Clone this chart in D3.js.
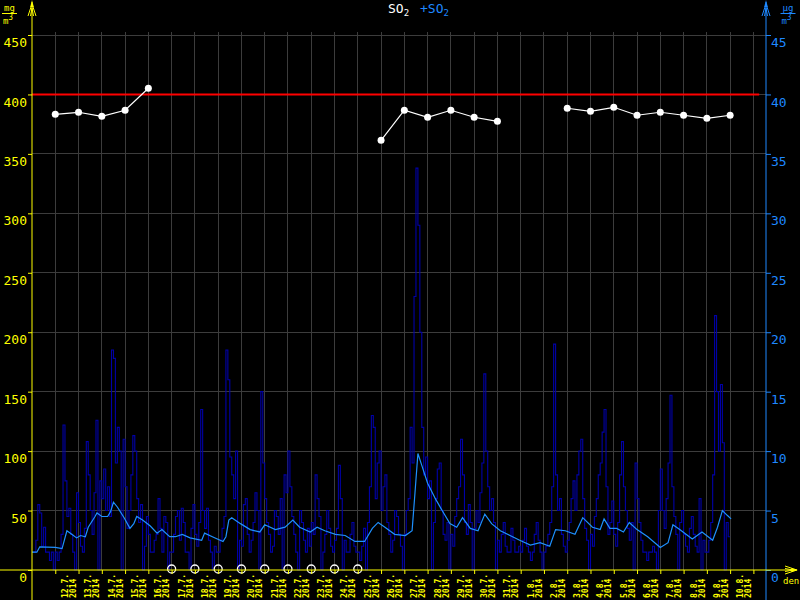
<!DOCTYPE html>
<html><head><meta charset="utf-8">
<script src="https://cdn.jsdelivr.net/npm/d3@7"></script>
<style>body{margin:0;background:#000}svg{display:block}</style>
</head><body><svg id="c" width="800" height="600"></svg>
<script>
// ---- data ----
const dayLabels = ["12.7.","13.7.","14.7.","15.7.","16.7.","17.7.","18.7.","19.7.","20.7.","21.7.","22.7.","23.7.","24.7.","25.7.","26.7.","27.7.","28.7.","29.7.","30.7.","31.7.","1.8.","2.8.","3.8.","4.8.","5.8.","6.8.","7.8.","8.8.","9.8.","10.8."];
const yearLabel = "2014";
const leftTicks = [0,50,100,150,200,250,300,350,400,450];
const rightTicks = [0,5,10,15,20,25,30,35,40,45];
const limitValue = 400;
// daily values at each day boundary (mg/m3)
const dailyValues = [383.3,385,381.6,386.7,405.2,null,null,null,null,null,null,null,null,null,361.4,386.7,380.8,386.7,380.8,377.4,null,null,388.4,385.8,389.2,382.5,385,382.5,379.9,382.5];
const missingDays = [5,6,7,8,9,10,11,12,13];
// 2-hourly values (ug/m3), one row per day starting 11.7.
const hourlyByDay = [
[1.5,1.5,2.5,5.5,4.8,2.0,3.6,1.5,1.5,0.8,1.5,0],
[1.5,0.8,1.5,3.0,12.2,7.5,4.5,5.2,3.0,1.5,0,6.5],
[4.0,2.0,1.5,3.5,10.8,8.0,5.0,3.0,6.5,12.6,0,7.5],
[6.0,8.5,5.0,7.0,4.5,18.5,17.8,9.0,12.0,10.0,0,11.0],
[7.0,3.5,5.0,8.0,11.3,10.0,6.0,4.0,5.5,0,2.0,4.5],
[3.0,1.5,1.5,2.5,3.0,6.0,3.5,1.5,4.5,4.0,0,1.5],
[1.5,3.0,4.5,5.0,2.5,5.2,4.0,1.5,1.5,0,3.5,5.5],
[3.0,2.0,4.0,13.5,5.0,3.5,5.2,2.5,1.5,0,2.0,1.5],
[1.5,2.5,3.5,4.5,18.5,16.0,9.5,8.0,6.0,10.0,0,2.5],
[2.0,5.5,6.0,3.0,1.5,2.5,4.0,6.5,5.0,0,15.0,9.0],
[6.0,4.0,3.0,1.5,2.0,5.0,4.5,3.0,6.0,0,8.0,6.5],
[10.0,7.0,4.5,3.0,1.5,0,5.0,4.0,2.5,1.5,3.5,2.0],
[4.0,3.0,8.0,6.0,4.5,0,1.5,3.0,5.0,3.5,2.0,1.5],
[2.5,3.5,8.8,6.0,0,2.5,1.5,1.5,3.0,4.0,2.0,1.5],
[1.5,0.8,2.0,3.5,0,4.0,7.0,13.0,12.0,6.0,9.0,10.0],
[5.0,7.0,8.0,4.0,3.0,1.5,2.5,5.0,4.5,3.0,2.0,0],
[3.0,5.0,6.0,12.0,9.0,23.0,33.8,29.0,20.0,12.0,8.0,9.5],
[6.0,7.5,0,4.0,6.0,8.5,9.0,5.0,3.0,2.5,4.0,0],
[3.0,2.0,4.5,6.0,7.0,11.0,8.0,4.0,3.0,5.5,4.0,0],
[3.5,5.0,4.0,6.5,9.0,16.5,10.0,7.0,5.0,6.0,4.0,0],
[2.5,1.5,3.0,4.0,2.0,1.5,1.5,3.5,2.5,1.5,1.5,2.0],
[1.5,2.5,3.5,2.0,1.5,0.8,1.5,3.0,4.0,2.5,1.5,0],
[1.5,2.0,3.0,4.0,7.0,19.0,8.0,5.0,6.0,3.0,2.0,1.5],
[2.5,4.0,6.0,7.5,5.0,8.0,10.0,11.0,6.0,3.5,2.5,0],
[3.0,2.0,4.5,6.0,8.0,9.0,11.6,13.5,7.0,3.0,4.0,5.8],
[3.0,2.0,4.0,8.0,10.8,7.0,5.0,3.5,2.5,4.0,0,9.0],
[6.0,4.0,2.5,1.5,1.5,0.8,1.5,1.5,2.0,1.5,0,5.0],
[8.5,5.0,3.5,6.0,9.0,14.7,7.0,4.5,3.0,0,4.0,5.0],
[3.0,2.0,1.5,3.5,4.5,3.0,2.0,1.5,6.0,0,2.5,1.5],
[1.5,2.5,4.0,8.0,21.4,15.0,10.0,15.6,10.7,0,4.0,2.8]
];
// running average (ug/m3) at hour offsets from 11.7. 0:00
const avgHours = [0,5,8,24,31,36,41,46,50,55,58,65,67,72,78,81,84,88,95,101,105,108,114,122,129,134,142,148,155,163,175,178,186,197,200,203,206,215,225,235,240,251,261,269,276,287,294,302,313,323,333,343,351,357,364,374,385,392,395,398,402,408,416,423,431,438,444,452,460,467,474,483,493,503,514,524,534,540,550,560,568,578,586,590,596,603,610,616,624,635,648,656,661,668,681,691,702,707,712,717,721];
const avgValues = [1.5,1.5,1.95,1.9,1.8,3.3,3.0,2.7,2.9,2.8,3.6,4.5,4.8,4.5,4.5,4.9,5.7,5.3,4.4,3.5,3.9,4.5,4.2,3.7,3.1,3.4,2.8,2.8,3.0,2.7,2.5,3.1,2.8,2.4,2.8,4.2,4.4,3.9,3.4,3.2,3.8,3.4,3.6,4.2,3.6,3.2,3.6,3.3,3.0,2.9,2.4,2.4,3.5,4.0,3.6,3.0,2.9,3.3,6.5,9.8,8.8,7.3,6.0,5.0,3.9,3.6,4.4,3.5,3.3,4.7,3.9,3.3,2.9,2.5,2.1,2.3,2.0,3.4,3.3,3.0,4.4,3.6,3.4,4.3,3.5,3.5,3.2,4.0,3.4,2.8,1.9,2.3,3.8,3.4,2.6,3.2,2.5,3.6,5.0,4.6,4.3];

// ---- chart ----
const YEL = "#ffff00", BLU = "#1e88ff", DARK = "#0000a8", LBL = "#1e90ff", GRID = "#3c3c3c";
const FONT = "'DejaVu Sans Mono', monospace";
const svg = d3.select("#c");
svg.append("rect").attr("width",800).attr("height",600).attr("fill","#000");

const x = d3.scaleLinear().domain([0, 757]).range([32, 766]);
const yL = d3.scaleLinear().domain([0, 450]).range([570, 35]);
const yR = d3.scaleLinear().domain([0, 45]).range([570, 35]);
const tickHours = d3.range(dayLabels.length + 1).map(i => 24 + 24 * i);

// grid
const g = svg.append("g");
g.selectAll(".vg").data(tickHours).join("line")
  .attr("x1", d => x(d)).attr("x2", d => x(d)).attr("y1", 32).attr("y2", 570)
  .attr("stroke", GRID).attr("stroke-width", 1).attr("shape-rendering","crispEdges");
g.selectAll(".hg").data(leftTicks.slice(1)).join("line")
  .attr("x1", 32).attr("x2", 766).attr("y1", d => yL(d)).attr("y2", d => yL(d))
  .attr("stroke", GRID).attr("stroke-width", 1).attr("shape-rendering","crispEdges");

// hourly series
const hourly = [];
hourlyByDay.forEach((day, di) => day.forEach((v, k) => hourly.push({h: di * 24 + k * 2, v})));
hourly.push({h: hourly.length * 2, v: hourly[hourly.length - 1].v});
svg.append("path").datum(hourly)
  .attr("d", d3.line().curve(d3.curveStepAfter).x(d => x(d.h)).y(d => yR(d.v)))
  .attr("fill","none").attr("stroke", DARK).attr("stroke-width", 1.1);

// running average
svg.append("path").datum(avgHours.map((h, i) => ({h, v: avgValues[i]})))
  .attr("d", d3.line().x(d => x(d.h)).y(d => yR(d.v)))
  .attr("fill","none").attr("stroke", LBL).attr("stroke-width", 1.2);

// limit line
svg.append("line").attr("x1", x(0)).attr("x2", x(750))
  .attr("y1", yL(limitValue)).attr("y2", yL(limitValue))
  .attr("stroke", "#ff0000").attr("stroke-width", 2);

// daily values
const daily = dailyValues.map((v, i) => ({h: 24 + 24 * i, v}));
svg.append("path").datum(daily)
  .attr("d", d3.line().defined(d => d.v != null).x(d => x(d.h)).y(d => yL(d.v)))
  .attr("fill","none").attr("stroke","#fff").attr("stroke-width", 1.2);
svg.selectAll(".dot").data(daily.filter(d => d.v != null)).join("circle")
  .attr("cx", d => x(d.h)).attr("cy", d => yL(d.v)).attr("r", 3.5).attr("fill","#fff");

// missing markers
svg.selectAll(".miss").data(missingDays).join("circle")
  .attr("cx", d => x(24 + 24 * d)).attr("cy", 569).attr("r", 4)
  .attr("fill","none").attr("stroke","#fff").attr("stroke-width", 1.3);

// axes
const axL = svg.append("g").attr("transform","translate(32,0)")
  .call(d3.axisLeft(yL).tickValues(leftTicks).tickSize(4).tickFormat(d3.format("d")));
axL.select(".domain").remove();
axL.selectAll("line").attr("stroke", YEL);
axL.selectAll("text").attr("fill", YEL).attr("x", -5).attr("y", 2).attr("dy","0.74em")
  .style("font-family", FONT).style("font-size","13px");

const axR = svg.append("g").attr("transform","translate(766,0)")
  .call(d3.axisRight(yR).tickValues(rightTicks).tickSize(5).tickFormat(d3.format("d")));
axR.select(".domain").remove();
axR.selectAll("line").attr("stroke", BLU);
axR.selectAll("text").attr("fill", BLU).attr("x", 5).attr("y", 2).attr("dy","0.74em")
  .style("font-family", FONT).style("font-size","13px");

const axB = svg.append("g").attr("transform","translate(0,570)")
  .call(d3.axisBottom(x).tickValues(tickHours).tickSize(4).tickFormat(""));
axB.select(".domain").remove();
axB.selectAll("line").attr("stroke", YEL);

// axis lines + arrows
svg.append("line").attr("x1",32).attr("x2",32).attr("y1",2).attr("y2",600).attr("stroke",YEL);
svg.append("line").attr("x1",766).attr("x2",766).attr("y1",2).attr("y2",600).attr("stroke",BLU);
svg.append("line").attr("x1",0).attr("x2",795).attr("y1",570).attr("y2",570).attr("stroke",YEL);
function upArrow(cx, col) {
  svg.append("path").attr("d",`M${cx-4},16L${cx},4L${cx+4},16M${cx-1.5},16L${cx},8L${cx+1.5},16`)
    .attr("fill","none").attr("stroke",col).attr("stroke-width",1);
  svg.append("path").attr("d",`M${cx-1.8},7L${cx},0L${cx+1.8},7Z`).attr("fill",col);
}
upArrow(32, YEL); upArrow(766, BLU);
svg.append("path").attr("d","M785,566L797,570L785,574M785,568.5L793,570L785,571.5")
  .attr("fill","none").attr("stroke",YEL).attr("stroke-width",1);
svg.append("path").attr("d","M791,568.2L798,570L791,571.8Z").attr("fill",YEL);

// day labels
const lab = svg.append("g").style("font-family", FONT).style("font-size","8px").style("font-weight","bold").attr("fill", YEL);
dayLabels.forEach((t, i) => {
  const xc = x(24 + 24 * i + 12);
  lab.append("text").attr("transform",`translate(${xc-1.5},598) rotate(-90)`).attr("dy","0.35em").text(t);
  lab.append("text").attr("transform",`translate(${xc+6.5},598) rotate(-90)`).attr("dy","0.35em").text(yearLabel);
});
svg.append("text").attr("x",783).attr("y",584).attr("fill",YEL)
  .style("font-family",FONT).style("font-size","9px").text("den");

// units
function unit(cx, col, top) {
  const u = svg.append("g").attr("fill", col).style("font-family", FONT).style("font-size","9px");
  u.append("text").attr("x", cx).attr("y", 11).attr("text-anchor","middle").text(top);
  u.append("line").attr("x1", cx-7.5).attr("x2", cx+7.5).attr("y1", 13.5).attr("y2", 13.5).attr("stroke", col);
  const t = u.append("text").attr("x", cx-1.5).attr("y", 24).attr("text-anchor","middle");
  t.append("tspan").text("m");
  t.append("tspan").attr("dy", -4).style("font-size","8px").text("3");
}
unit(9.5, YEL, "mg");
unit(788, BLU, "µg");

// title
const ti = svg.append("text").attr("y", 13).style("font-family", FONT).style("font-size","13px");
ti.append("tspan").attr("x", 388).attr("fill","#fff").text("SO");
ti.append("tspan").attr("dy", 3).attr("fill","#fff").style("font-size","9px").text("2");
ti.append("tspan").attr("x", 420).attr("dy", -3).attr("fill", BLU).text("+SO");
ti.append("tspan").attr("dy", 3).attr("fill", BLU).style("font-size","9px").text("2");
</script></body></html>
